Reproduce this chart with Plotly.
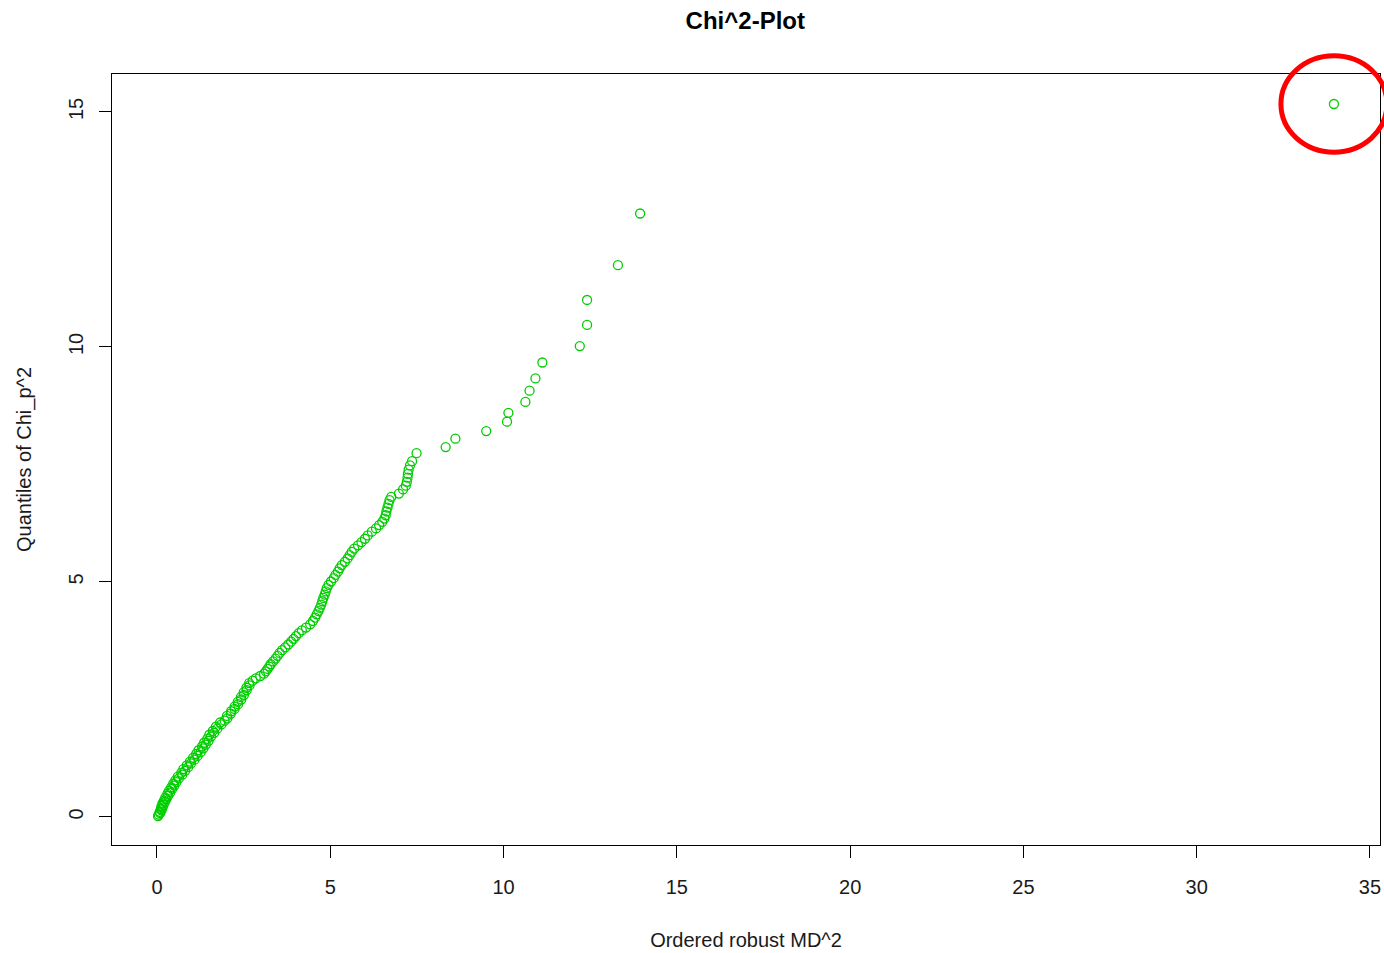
import plotly.graph_objects as go

# Ordered robust squared Mahalanobis distances (x) and chi^2 quantiles (y)
md2 = [
    0.03, 0.05, 0.09, 0.08, 0.13, 0.11, 0.16, 0.13, 0.19, 0.16, 0.23, 0.20, 0.27, 0.24, 0.32, 0.30, 0.38, 0.35,
    0.44, 0.41, 0.50, 0.47, 0.56, 0.53, 0.63, 0.60, 0.73, 0.70, 0.81, 0.76, 0.90, 0.86, 0.98, 0.95, 1.08, 1.04,
    1.17, 1.13, 1.26, 1.20, 1.34, 1.30, 1.41, 1.36, 1.49, 1.45, 1.56, 1.51, 1.65, 1.61, 1.74, 1.70, 1.86, 1.82,
    1.95, 2.03, 2.02, 2.13, 2.14, 2.24, 2.24, 2.34, 2.33, 2.43, 2.42, 2.51, 2.50, 2.59, 2.58, 2.67, 2.66, 2.76,
    2.85, 2.98, 3.09, 3.14, 3.19, 3.24, 3.28, 3.35, 3.42, 3.48, 3.54, 3.61, 3.70, 3.79, 3.87, 3.94, 4.01, 4.09,
    4.18, 4.30,
    4.42, 4.50, 4.56, 4.61, 4.66, 4.70, 4.74, 4.77, 4.80, 4.84, 4.87, 4.90, 4.95, 5.02, 5.10, 5.15, 5.22, 5.27,
    5.33, 5.42, 5.50, 5.56, 5.62, 5.69, 5.80, 5.90, 6.00, 6.08,
    6.20, 6.32, 6.41, 6.50, 6.56, 6.60, 6.62, 6.65, 6.68, 6.71, 6.76, 6.98, 7.10, 7.18, 7.21, 7.23, 7.24, 7.26,
    7.30, 7.36, 7.49,
    8.33, 8.61, 9.50, 10.10, 10.14, 10.63, 10.75, 10.92, 11.12, 12.20, 12.41, 12.41, 13.30, 13.94, 33.96,
]
chi_q = [
    0.02, 0.05, 0.08, 0.11, 0.14, 0.17, 0.20, 0.23, 0.26, 0.29, 0.32, 0.35, 0.38, 0.41, 0.45, 0.49, 0.52, 0.56,
    0.60, 0.63, 0.67, 0.71, 0.74, 0.78, 0.82, 0.86, 0.90, 0.94, 0.98, 1.02, 1.06, 1.10, 1.14, 1.18, 1.22, 1.26,
    1.30, 1.34, 1.38, 1.42, 1.46, 1.50, 1.54, 1.58, 1.62, 1.66, 1.71, 1.75, 1.79, 1.83, 1.88, 1.92, 1.97, 2.01,
    2.05, 2.10, 2.15, 2.20, 2.25, 2.30, 2.35, 2.40, 2.45, 2.50, 2.55, 2.60, 2.65, 2.70, 2.75, 2.80, 2.85, 2.90,
    2.95, 3.00, 3.05, 3.10, 3.15, 3.20, 3.25, 3.31, 3.37, 3.43, 3.49, 3.55, 3.61, 3.67, 3.73, 3.79, 3.85, 3.91,
    3.97, 4.03,
    4.10, 4.17, 4.24, 4.31, 4.38, 4.45, 4.52, 4.59, 4.66, 4.73, 4.80, 4.87, 4.94, 5.01, 5.08, 5.15, 5.22, 5.29,
    5.36, 5.43, 5.50, 5.57, 5.64, 5.71, 5.78, 5.85, 5.92, 5.99,
    6.07, 6.14, 6.21, 6.28, 6.35, 6.42, 6.50, 6.58, 6.66, 6.74, 6.81, 6.88, 6.97, 7.05, 7.13, 7.22, 7.30, 7.39,
    7.48, 7.57, 7.74,
    7.87, 8.05, 8.21, 8.41, 8.60, 8.83, 9.07, 9.33, 9.67, 10.02, 10.47, 11.00, 11.74, 12.84, 15.17,
]

x_ticks = [0, 5, 10, 15, 20, 25, 30, 35]
y_ticks = [0, 5, 10, 15]
x_range = [-1.298, 35.289]
y_range = [-0.596, 15.808]

GREEN = "#00CD00"
FONT = "Liberation Sans, Arial, sans-serif"

fig = go.Figure()
fig.add_trace(go.Scatter(
    x=md2, y=chi_q, mode="markers",
    marker=dict(symbol="circle-open", size=9, color=GREEN, line=dict(width=1.3, color=GREEN)),
    showlegend=False, hoverinfo="x+y",
))

# red ellipse highlighting the outlier (the largest distance), placed in paper coordinates so it is not clipped
ox, oy = md2[-1], chi_q[-1]
cx = (ox - x_range[0]) / (x_range[1] - x_range[0])
cy = (oy - y_range[0]) / (y_range[1] - y_range[0])
rx, ry = 0.0418, 0.0625
fig.add_shape(type="circle", xref="paper", yref="paper",
              x0=cx - rx, x1=cx + rx, y0=cy - ry, y1=cy + ry,
              line=dict(color="#FF0000", width=5), layer="above")

axis_common = dict(
    showgrid=False, zeroline=False, showline=True, linecolor="black", linewidth=1, mirror=True,
    ticks="outside", ticklen=12, tickwidth=1, tickcolor="black",
    tickfont=dict(family=FONT, size=20, color="#1a1a1a"),
)
fig.update_xaxes(range=x_range, tickvals=x_ticks, ticktext=[str(v) for v in x_ticks],
                 ticklabelstandoff=12,
                 title=dict(text="Ordered robust MD^2", font=dict(family=FONT, size=20, color="#1a1a1a"), standoff=35),
                 **axis_common)
fig.update_yaxes(range=y_range, tickvals=y_ticks, ticktext=[str(v) for v in y_ticks], tickangle=-90,
                 ticklabelstandoff=8,
                 title=dict(text="Quantiles of Chi_p^2", font=dict(family=FONT, size=20, color="#1a1a1a"), standoff=28),
                 **axis_common)

fig.update_layout(
    width=1384, height=953,
    margin=dict(l=112, r=4, t=74, b=108),
    paper_bgcolor="white", plot_bgcolor="white",
    title=dict(text="<b>Chi^2-Plot</b>", x=0.5385, xanchor="center", y=0.978, yanchor="middle",
               font=dict(family=FONT, size=24, color="black")),
)

fig.write_html("out.html", config={"displayModeBar": False},
               post_script="document.body.style.margin='0';document.body.style.overflow='hidden';")
